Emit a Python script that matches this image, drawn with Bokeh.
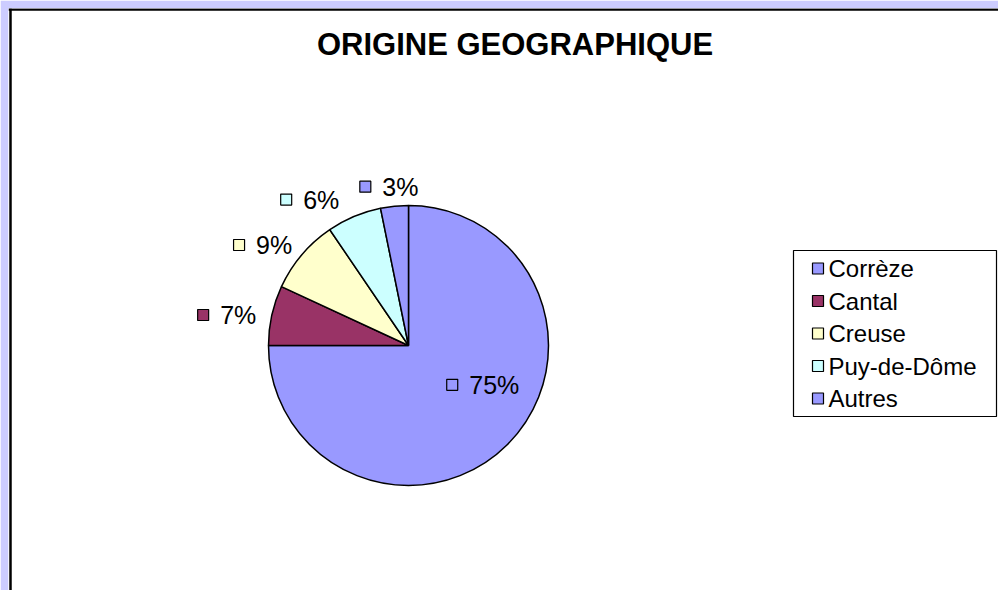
import math
from bokeh.plotting import figure
from bokeh.models import ColumnDataSource, Range1d, Span
from bokeh.core.properties import value
from bokeh.embed import file_html
from bokeh.resources import INLINE

# ---------------- data ----------------
categories = ["Corrèze", "Cantal", "Creuse", "Puy-de-Dôme", "Autres"]
shares = [75.0, 6.9, 8.6, 6.3, 3.2]
colors = ["#9999FF", "#993366", "#FFFFCC", "#CCFFFF", "#9999FF"]
title_text = "ORIGINE GEOGRAPHIQUE"

# ---------------- layout ----------------
W, H = 990, 582          # white chart area (frame)
CX, CY, R = 400, 245, 140
FONT = "Liberation Sans"
LBL_FS = 25
LEG_FS = 24
INSIDE_R = 0.6
INSIDE_ANGLE_FACTOR = 0.62

p = figure(width=W + 8, height=H + 8, x_range=Range1d(0, W), y_range=Range1d(0, H),
           output_backend="svg", toolbar_location=None,
           min_border_left=8, min_border_top=8, min_border_right=0, min_border_bottom=0,
           x_axis_location=None, y_axis_location=None)
p.grid.visible = False
p.outline_line_color = None
p.background_fill_color = "white"
p.border_fill_color = "#CCCCFF"

# chart area frame (top & left edges visible)
p.add_layout(Span(location=2, dimension="height", line_color="black", line_width=2.5))
p.add_layout(Span(location=H - 1, dimension="width", line_color="black", line_width=2.5))

# ---------------- pie ----------------
total = sum(shares)
starts, ends, mids = [], [], []
cum = 0.0
for v in shares:
    a0 = math.pi / 2 - 2 * math.pi * cum / total
    cum += v
    a1 = math.pi / 2 - 2 * math.pi * cum / total
    starts.append(a0)
    ends.append(a1)
    mids.append((a0 + a1) / 2)

src = ColumnDataSource(dict(cat=categories, share=shares, color=colors, start=starts, end=ends))
p.wedge(x=CX, y=CY, radius=R, start_angle="start", end_angle="end", direction="clock",
        fill_color="color", line_color="black", line_width=1.5, source=src)

# ---------------- data labels ----------------
labels = ["%d%%" % round(100 * v / total) for v in shares]


def text_w(s, fs):
    w = 0
    for ch in s:
        w += 0.889 if ch == "%" else 0.556
    return w * fs


boxes = []
for i, (v, m) in enumerate(zip(shares, mids)):
    w = 23 + text_w(labels[i], LBL_FS)
    hb = 12
    if v / total > 0.5:
        a = m * INSIDE_ANGLE_FACTOR
        cx = CX + INSIDE_R * R * math.cos(a)
        cy = CY + INSIDE_R * R * math.sin(a)
        inside = True
    else:
        ax = CX + (R + 10) * math.cos(m)
        ay = CY + (R + 10) * math.sin(m)
        cx = ax + (w / 2 + 4) * math.cos(m) - 6 * abs(math.sin(2 * m))
        cy = ay + 10 * math.sin(m) - 4 * abs(math.cos(m))
        inside = False
    boxes.append([cx, cy, w, hb, inside])

# resolve overlaps of outside labels (from the last slice backwards)
order = [i for i in range(len(shares) - 1, -1, -1) if not boxes[i][4]]
for k in range(1, len(order)):
    i, j = order[k], order[k - 1]
    bi, bj = boxes[i], boxes[j]
    if abs(bi[1] - bj[1]) < bi[3] + bj[3]:
        left_j = bj[0] - bj[2] / 2
        right_i = bi[0] + bi[2] / 2
        if right_i > left_j - 20:
            bi[0] = left_j - 20 - bi[2] / 2

sq_x, sq_y, sq_c, tx, ty = [], [], [], [], []
for i, b in enumerate(boxes):
    left = b[0] - b[2] / 2
    sq_x.append(left + 6)
    sq_y.append(b[1])
    sq_c.append(colors[i])
    tx.append(left + 23)
    ty.append(b[1])

p.rect(x=sq_x, y=sq_y, width=11, height=11, width_units="screen", height_units="screen",
       fill_color=sq_c, line_color="black", line_width=1.2)
p.text(x=tx, y=ty, text=labels, text_font=value(FONT), text_font_size="%dpx" % LBL_FS,
       text_align="left", text_baseline="middle", text_color="black")

# ---------------- title ----------------
p.text(x=[506.5], y=[546], text=[title_text], text_font=value(FONT), text_font_size="31px",
       text_font_style="bold", text_align="center", text_baseline="middle", text_color="black")

# ---------------- legend ----------------
LL, LR, LT, LB = 785, 988, 340, 174
p.quad(left=[LL], right=[LR], top=[LT], bottom=[LB], fill_color="white", line_color="black", line_width=1.2)
ly = [LT - 18 - 32.5 * i for i in range(len(categories))]
p.rect(x=[809.5] * len(categories), y=ly, width=11, height=11, width_units="screen", height_units="screen",
       fill_color=colors, line_color="black", line_width=1.2)
p.text(x=[820] * len(categories), y=ly, text=categories, text_font=value(FONT),
       text_font_size="%dpx" % LEG_FS, text_align="left", text_baseline="middle", text_color="black")

open("out.html", "w").write(file_html(p, INLINE))
